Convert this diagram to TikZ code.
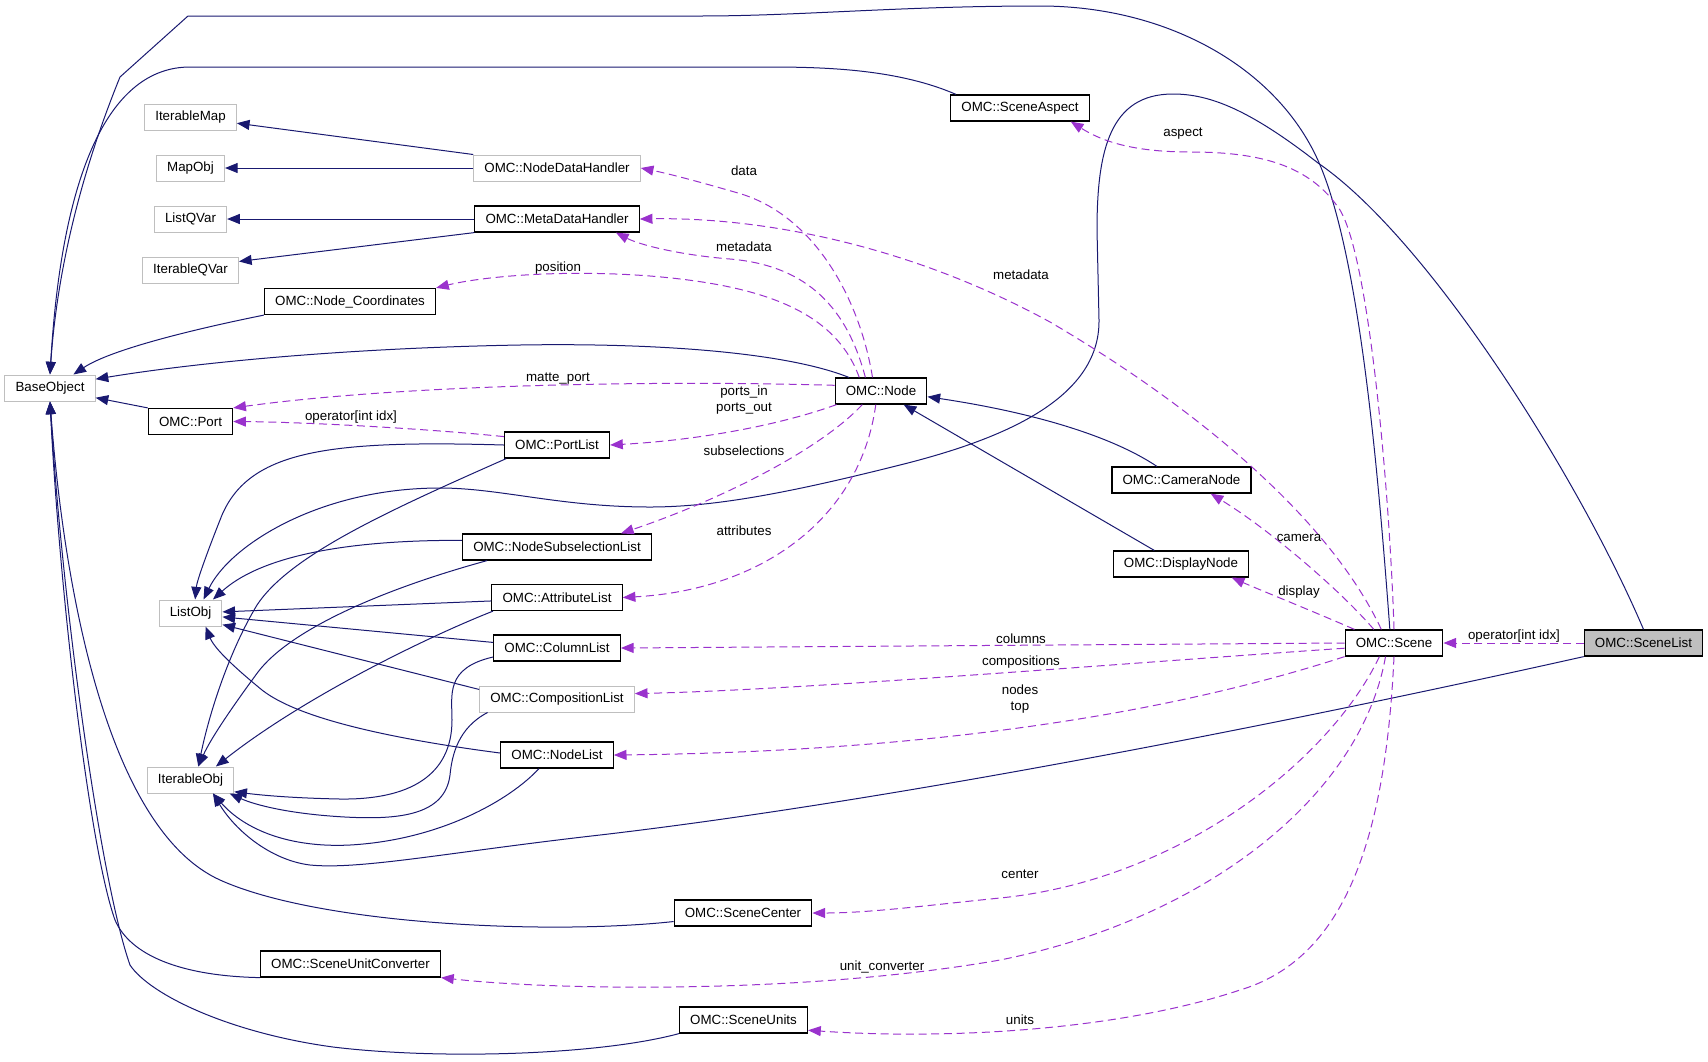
\documentclass[tikz,border=0pt]{standalone}
\usepackage{fontspec}
\setmainfont{Liberation Sans}
\usetikzlibrary{arrows.meta}
\definecolor{edgeblue}{HTML}{191970}
\definecolor{edgepurple}{HTML}{9A32CD}
\definecolor{boxgray}{HTML}{BFBFBF}
\tikzset{
  cls/.style={draw=black, fill=white, line width=0.9pt, font=\fontsize{10}{12}\selectfont,
    inner xsep=8pt, inner ysep=0pt, minimum height=19.5pt},
  ext/.style={cls, draw=boxgray, line width=0.75pt},
  inh/.style={draw=edgeblue, line width=0.75pt, -{Triangle[length=9.5pt,width=7.5pt]}},
  mem/.style={draw=edgepurple, line width=0.75pt, dash pattern=on 6pt off 3.5pt,
    -{Triangle[length=9.5pt,width=7.5pt]}},
  lbl/.style={font=\fontsize{10}{11.5}\selectfont, inner sep=0pt, align=center}
}
\begin{document}
\begin{tikzpicture}[x=0.75pt,y=-0.75pt]
    \useasboundingbox (0,0) rectangle (1708,1061);
    \node[ext] (baseobj) at (50,388) {BaseObject};
    \foreach \n/\t/\y in {itermap/IterableMap/117.5, mapobj/MapObj/168, listqvar/ListQVar/219, iterqvar/IterableQVar/270} {
        \node[ext] (\n) at (190.5,\y) {\t};
    }
    \node[ext] (listobj) at (190.5,613) {ListObj};
    \node[ext] (iterobj) at (190.5,780) {IterableObj};
    \node[cls] (port) at (190.5,421.5) {OMC::Port};
    \node[cls] (nodecoord) at (350,301.5) {OMC::Node\_Coordinates};
    \node[ext] (ndh) at (557,168) {OMC::NodeDataHandler};
    \node[cls] (mdh) at (557,219) {OMC::MetaDataHandler};
    \node[cls] (portlist) at (557,445) {OMC::PortList};
    \node[cls] (nsl) at (557,547) {OMC::NodeSubselectionList};
    \node[cls] (al) at (557,597.5) {OMC::AttributeList};
    \node[cls] (cl) at (557,648) {OMC::ColumnList};
    \node[ext] (compl) at (557,699) {OMC::CompositionList};
    \node[cls] (nl) at (557,755) {OMC::NodeList};
    \node[cls] (aspect) at (1020,108) {OMC::SceneAspect};
    \node[cls] (omcnode) at (881,391) {OMC::Node};
    \node[cls] (camera) at (1181.5,480) {OMC::CameraNode};
    \node[cls] (display) at (1181,564) {OMC::DisplayNode};
    \node[cls] (scene) at (1394,643) {OMC::Scene};
    \node[cls, fill=boxgray] (scenelist) at (1643.5,643) {OMC::SceneList};
    \node[cls] (scenecenter) at (743,913) {OMC::SceneCenter};
    \node[cls] (unitconv) at (350.5,964) {OMC::SceneUnitConverter};
    \node[cls] (units) at (743.5,1020) {OMC::SceneUnits};

    \draw[inh] (aspect.168) .. controls (900,70) and (830,67) .. (770,67) -- (190,67) .. controls (110,67) and (62,170) .. (baseobj.north);
    \draw[inh] (scene.107) .. controls (1378,470) and (1360,260) .. (1320,165) .. controls (1280,70) and (1170,6) .. (1040,6) .. controls (900,6) and (800,16) .. (700,16) -- (188,16) -- (120,77) .. controls (70,200) and (55,300) .. (baseobj.north);
    \draw[inh] (scenelist.north) .. controls (1580,480) and (1430,240) .. (1318,163) .. controls (1250,110) and (1210,94) .. (1173,94) .. controls (1110,94) and (1097,150) .. (1097,230) -- (1099,320) .. controls (1100,400) and (1000,440) .. (900,465) .. controls (800,490) and (720,507) .. (650,507) .. controls (560,507) and (500,488) .. (440,488) .. controls (320,488) and (230,545) .. (listobj.46);
    \draw[inh] (scenelist.south west) .. controls (1300,720) and (900,800) .. (600,835) .. controls (450,852) and (360,870) .. (310,865) .. controls (270,860) and (235,830) .. (iterobj.-31);
    \draw[inh] (omcnode.157) .. controls (780,350) and (640,343) .. (520,345) .. controls (350,348) and (200,362) .. (baseobj.11);
    \draw[inh] (nodecoord.south west) .. controls (190,330) and (110,350) .. (baseobj.30);
    \draw[inh] (port.north west) -- (baseobj.-12);
    \draw[inh] (ndh.north west) -- (itermap.-7);
    \draw[inh] (ndh.west) -- (mapobj.east);
    \draw[inh] (mdh.west) -- (listqvar.east);
    \draw[inh] (mdh.south west) -- (iterqvar.10);
    \draw[inh] (camera.151) .. controls (1110,435) and (1030,412) .. (omcnode.-7);
    \draw[inh] (display.153) -- (omcnode.-31);
    \draw[inh] (portlist.west) .. controls (330,440) and (250,450) .. (222,515) .. controls (210,545) and (197,580) .. (listobj.71);
    \draw[inh] (portlist.195) .. controls (390,510) and (290,555) .. (257,605) .. controls (230,650) and (210,710) .. (iterobj.60);
    \draw[inh] (nsl.176) .. controls (380,540) and (270,548) .. (listobj.31);
    \draw[inh] (nsl.191) .. controls (380,590) and (290,630) .. (258,672) .. controls (230,710) and (210,740) .. (iterobj.60);
    \draw[inh] (al.183) -- (listobj.2);
    \draw[inh] (al.192) .. controls (420,640) and (300,700) .. (iterobj.28);
    \draw[inh] (cl.175) -- (listobj.-7);
    \draw[inh] (cl.188) .. controls (445,668) and (452,695) .. (452,720) .. controls (452,775) and (410,800) .. (340,799) .. controls (290,798) and (260,795) .. (iterobj.-15);
    \draw[inh] (compl.173) -- (listobj.-20);
    \draw[inh] (compl.191) .. controls (458,728) and (452,755) .. (450,775) .. controls (445,815) and (400,820) .. (345,817) .. controls (290,814) and (255,805) .. (iterobj.-19);
    \draw[inh] (nl.178) .. controls (400,740) and (300,720) .. (262,690) .. controls (240,672) and (215,650) .. (listobj.-42);
    \draw[inh] (nl.217) .. controls (510,800) and (440,840) .. (350,845) .. controls (290,848) and (245,830) .. (iterobj.-31);
    \draw[inh] (scenecenter.187) .. controls (550,935) and (320,925) .. (220,880) .. controls (110,830) and (65,600) .. (baseobj.south);
    \draw[inh] (unitconv.south west) .. controls (180,976) and (130,955) .. (115,920) .. controls (90,850) and (60,600) .. (baseobj.south);
    \draw[inh] (units.south west) .. controls (600,1055) and (440,1060) .. (333,1047) .. controls (230,1033) and (150,995) .. (130,965) .. controls (100,880) and (62,600) .. (baseobj.south);

    \draw[mem] (omcnode.122) .. controls (860,300) and (815,215) .. (738,193) .. controls (700,182) and (670,174) .. (ndh.east);
    \draw[mem] (omcnode.139) .. controls (845,300) and (800,265) .. (730,259) .. controls (680,255) and (640,245) .. (mdh.-13);
    \draw[mem] (omcnode.148) .. controls (835,310) and (760,285) .. (650,276) .. controls (560,269) and (480,277) .. (nodecoord.north east);
    \draw[mem] (omcnode.173) .. controls (650,380) and (400,385) .. (port.north east);
    \draw[mem] (portlist.171) .. controls (420,428) and (300,422) .. (port.east);
    \draw[mem] (omcnode.197) .. controls (780,425) and (700,440) .. (portlist.east);
    \draw[mem] (omcnode.216) .. controls (820,450) and (720,500) .. (nsl.12);
    \draw[mem] (omcnode.249) .. controls (860,520) and (760,590) .. (al.east);
    \draw[mem] (scene.north) .. controls (1390,500) and (1370,260) .. (1340,210) .. controls (1310,165) and (1260,152) .. (1190,152) .. controls (1130,152) and (1100,140) .. (aspect.-15);
    \draw[mem] (scene.133) .. controls (1330,520) and (1200,410) .. (1050,322) .. controls (900,240) and (750,217) .. (mdh.east);
    \draw[mem] (scene.146) .. controls (1340,590) and (1270,530) .. (camera.-25);
    \draw[mem] (scene.161) .. controls (1310,610) and (1260,590) .. (display.-15);
    \draw[mem] (scene.west) -- (cl.east);
    \draw[mem] (scene.186) .. controls (1100,665) and (800,690) .. (compl.4);
    \draw[mem] (scene.south west) .. controls (1150,720) and (900,752) .. (nl.east);
    \draw[mem] (scene.223) .. controls (1330,760) and (1180,880) .. (1000,898) .. controls (930,905) and (870,913) .. (scenecenter.east);
    \draw[mem] (scene.238) .. controls (1360,800) and (1200,920) .. (1000,960) .. controls (800,995) and (550,990) .. (unitconv.south east);
    \draw[mem] (scene.south) .. controls (1385,850) and (1340,960) .. (1240,990) .. controls (1120,1030) and (950,1040) .. (units.-9);
    \draw[mem] (scenelist.west) -- (scene.east);

    \node[lbl] (ldata) at (744,171) {data};
    \node[lbl] (lmetanode) at (744,247) {metadata};
    \node[lbl] (lmetascene) at (1021,275) {metadata};
    \node[lbl] (laspect) at (1183,134) {aspect};
    \node[lbl] (lposition) at (558,268) {position};
    \node[lbl] (lmatte) at (558,379) {matte\_port};
    \node[lbl] (lopport) at (351,417) {operator[int idx]};
    \node[lbl] (lports) at (744,400) {ports\_in\\ports\_out};
    \node[lbl] (lsubsel) at (744,451) {subselections};
    \node[lbl] (lattr) at (744,531) {attributes};
    \node[lbl] (lcamera) at (1299,538) {camera};
    \node[lbl] (ldisplay) at (1299,592) {display};
    \node[lbl] (lcolumns) at (1021,639) {columns};
    \node[lbl] (lcomps) at (1021,662) {compositions};
    \node[lbl] (lnodes) at (1020,699) {nodes\\top};
    \node[lbl] (lopscene) at (1514,636) {operator[int idx]};
    \node[lbl] (lcenter) at (1020,874) {center};
    \node[lbl] (lunitconv) at (882,967) {unit\_converter};
    \node[lbl] (lunits) at (1020,1020) {units};
\end{tikzpicture}
\end{document}
